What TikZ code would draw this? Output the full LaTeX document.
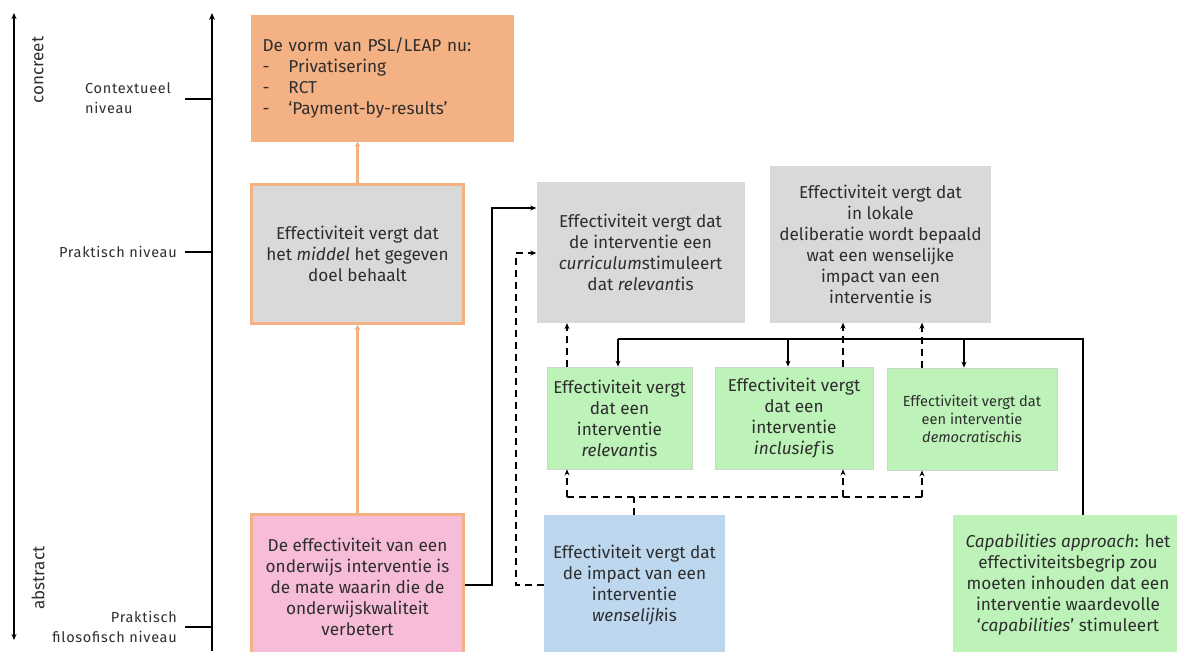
\documentclass[tikz,border=0pt]{standalone}
\usepackage{fontspec}
\setmainfont{Fira Sans}
\usetikzlibrary{arrows.meta,calc}
\definecolor{txt}{HTML}{2E2E2E}
\definecolor{orangebox}{HTML}{F4B183}
\definecolor{greybox}{HTML}{D9D9D9}
\definecolor{pinkbox}{HTML}{F6BCD8}
\definecolor{bluebox}{HTML}{BDD7EE}
\definecolor{greenbox}{HTML}{BDF2B8}
\definecolor{greenedge}{HTML}{C8D8C8}
\tikzset{
  box/.style={inner sep=0pt, align=center, text=txt, font=\fontsize{17.2}{21}\selectfont},
  framed/.style={box, draw=orangebox, line width=3pt},
  gbox/.style={box, fill=greenbox, draw=greenedge, line width=0.8pt},
  lvl/.style={text=txt, font=\fontsize{14.5}{20}\selectfont\addfontfeatures{LetterSpace=5}, inner sep=0pt},
  tick/.style={line width=1.5pt, black},
  link/.style={line width=1.5pt, black, -{Stealth[length=6pt,width=5pt]}},
  dlink/.style={link, dash pattern=on 7pt off 5pt},
  dline/.style={line width=1.5pt, black, dash pattern=on 7pt off 5pt},
  oline/.style={line width=3pt, orangebox, -{Stealth[length=5pt,width=6pt]}}
}
\begin{document}
\begin{tikzpicture}[x=1pt,y=-1pt]
\useasboundingbox (0,0) rectangle (1177,651);

% abstraction scale on the far left
\coordinate (st) at (14,13);
\coordinate (sb) at (14,640);
\draw[line width=1.2pt, {Stealth[length=6pt,width=5pt]}-{Stealth[length=6pt,width=5pt]}] (st) -- (sb);
\node[rotate=90, text=txt, font=\fontsize{17}{18}\selectfont] (conc) at (38,70) {concreet};
\node[rotate=90, text=txt, font=\fontsize{17}{18}\selectfont] (abst) at (38,578) {abstract};

% level axis
\coordinate (at) at (212,13);
\coordinate (ab) at (212,651);
\draw[line width=2.5pt, -{Stealth[length=7pt,width=6pt]}] (ab) -- (at);
\coordinate (t1) at (185,99);
\coordinate (t2) at (185,252);
\coordinate (t3) at (185,627);
\draw[tick] (t1) -- (t1 -| at);
\draw[tick] (t2) -- (t2 -| at);
\draw[tick] (t3) -- (t3 -| at);
\node[lvl, anchor=west, align=left] (ctx) at (85,98) {Contextueel\\niveau};
\node[lvl, anchor=east] (prak) at (177,252) {Praktisch niveau};
\node[lvl, anchor=east, align=right] (filo) at (177,627) {Praktisch\\filosofisch niveau};

% left column
\node[box, fill=orangebox, minimum width=263pt, minimum height=127pt, text width=239pt, align=left] (psl) at (382,78)
  {De vorm van PSL/LEAP nu:\\
   \makebox[26pt][l]{-}Privatisering\\
   \makebox[26pt][l]{-}RCT\\
   \makebox[26pt][l]{-}‘Payment-by-results’};
\node[framed, fill=greybox, minimum width=212pt, minimum height=139pt] (mid) at (357.5,254)
  {Effectiviteit vergt dat\\het \textit{middel} het gegeven\\doel behaalt};
\node[framed, fill=pinkbox, minimum width=212pt, minimum height=145pt] (pink) at (357.5,587)
  {De effectiviteit van een\\onderwijs interventie is\\de mate waarin die de\\onderwijskwaliteit\\verbetert};
\draw[oline] (pink.north) -- (mid.south);
\draw[oline] (mid.north) -- (mid.north |- psl.south);

% grey statements
\node[box, fill=greybox, minimum width=208pt, minimum height=141pt] (cur) at (640.5,252.5)
  {Effectiviteit vergt dat\\de interventie een\\\textit{curriculum}stimuleert\\dat \textit{relevant}is};
\node[box, fill=greybox, minimum width=221pt, minimum height=157pt] (del) at (880.5,244)
  {Effectiviteit vergt dat\\in lokale\\deliberatie wordt bepaald\\wat een wenselijke\\impact van een\\interventie is};

% green statements
\node[gbox, minimum width=145pt, minimum height=102pt] (g1) at (619.5,418)
  {Effectiviteit vergt\\dat een\\interventie\\\textit{relevant}is};
\node[gbox, minimum width=158pt, minimum height=102pt] (g2) at (794,418)
  {Effectiviteit vergt\\dat een\\interventie\\\textit{inclusief}is};
\node[gbox, minimum width=170pt, minimum height=102pt, font=\fontsize{14.6}{18}\selectfont] (g3) at (972,419)
  {Effectiviteit vergt dat\\een interventie\\\textit{democratisch}is};

% bottom statements
\node[box, fill=bluebox, minimum width=181pt, minimum height=140pt] (blue) at (634.5,585)
  {Effectiviteit vergt dat\\de impact van een\\interventie\\\textit{wenselijk}is};
\node[box, fill=greenbox, minimum width=230pt, minimum height=140pt] (cap) at (1068,585)
  {\textit{Capabilities approach}: het\\effectiviteitsbegrip zou\\moeten inhouden dat een\\interventie waardevolle\\‘\textit{capabilities}’ stimuleert};

% connector routing points
\coordinate (xs) at (492,208);
\coordinate (xd) at (516,253);
\coordinate (xa) at (567,497);
\coordinate (xb) at (843,497);
\coordinate (xc) at (922,497);
\coordinate (xm) at (634,497);
\coordinate (ya) at (618,339);
\coordinate (yb) at (788,339);
\coordinate (yc) at (964,339);
\coordinate (yd) at (1083,339);

% solid: pink box to curriculum box
\draw[link] (pink.east |- 0,585) -| (xs) -- (xs -| cur.west);
% dashed: blue box to curriculum box
\draw[dlink] (blue.west |- 0,585) -| (xd) -- (xd -| cur.west);
% dashed: blue box up to the green row
\draw[dline] (blue.north -| xm) -- (xm);
\draw[dline] (xa) -- (xc);
\draw[dlink] (xa) -- (xa |- g1.south);
\draw[dlink] (xb) -- (xb |- g2.south);
\draw[dlink] (xc) -- (xc |- g3.south);
% dashed: green row up to the grey statements
\draw[dlink] (xa |- g1.north) -- (xa |- cur.south);
\draw[dlink] (xb |- g2.north) -- (xb |- del.south);
\draw[dlink] (xc |- g3.north) -- (xc |- del.south);
% solid: capabilities approach down to the green row
\draw[line width=1.5pt] (cap.north -| yd) -- (yd) -- (ya);
\draw[link] (ya) -- (ya |- g1.north);
\draw[link] (yb) -- (yb |- g2.north);
\draw[link] (yc) -- (yc |- g3.north);
\end{tikzpicture}
\end{document}
